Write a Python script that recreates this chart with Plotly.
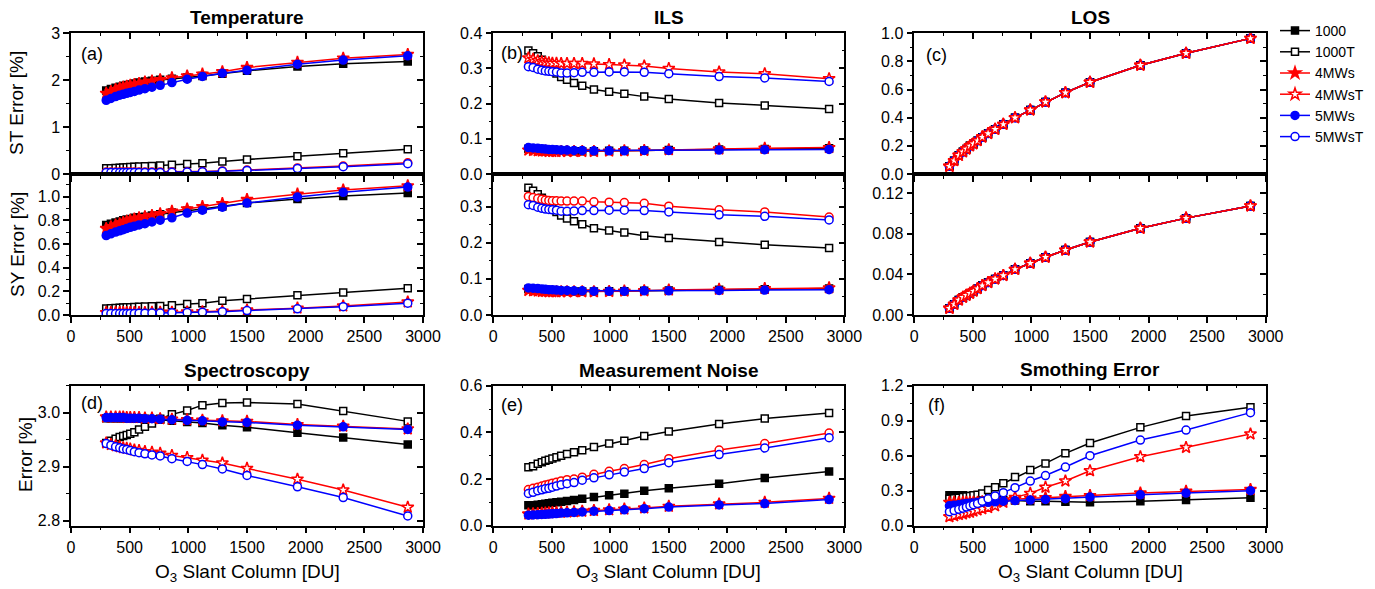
import plotly.graph_objects as go

W, H = 1375, 589

# ---------------- data ----------------
x_du = [300, 340, 380, 415, 445, 475, 505, 540, 580, 630, 690, 760, 860, 990, 1120, 1290, 1500, 1930, 2320, 2870]
series_names = ["1000", "1000T", "4MWs", "4MWsT", "5MWs", "5MWsT"]

temp_st = {
    "1000":  [1.78, 1.81, 1.84, 1.86, 1.88, 1.90, 1.91, 1.93, 1.95, 1.97, 1.99, 2.01, 2.03, 2.06, 2.09, 2.14, 2.20, 2.29, 2.35, 2.40],
    "1000T": [0.12, 0.125, 0.13, 0.135, 0.14, 0.145, 0.15, 0.155, 0.16, 0.165, 0.17, 0.18, 0.195, 0.215, 0.23, 0.265, 0.31, 0.38, 0.44, 0.53],
    "4MWs":  [1.72, 1.76, 1.80, 1.83, 1.85, 1.87, 1.89, 1.91, 1.93, 1.96, 1.98, 2.01, 2.05, 2.09, 2.13, 2.18, 2.27, 2.38, 2.47, 2.55],
    "4MWsT": [0.04, 0.04, 0.04, 0.04, 0.04, 0.04, 0.04, 0.04, 0.04, 0.042, 0.043, 0.044, 0.045, 0.048, 0.055, 0.065, 0.085, 0.13, 0.17, 0.24],
    "5MWs":  [1.57, 1.61, 1.65, 1.68, 1.70, 1.72, 1.74, 1.76, 1.79, 1.82, 1.85, 1.89, 1.95, 2.02, 2.08, 2.15, 2.21, 2.34, 2.43, 2.52],
    "5MWsT": [0.03, 0.03, 0.03, 0.03, 0.03, 0.03, 0.03, 0.03, 0.03, 0.032, 0.033, 0.034, 0.036, 0.04, 0.046, 0.056, 0.075, 0.115, 0.155, 0.22],
}
temp_sy = {
    "1000":  [0.76, 0.77, 0.78, 0.79, 0.80, 0.805, 0.81, 0.82, 0.825, 0.83, 0.84, 0.85, 0.865, 0.88, 0.895, 0.915, 0.945, 0.98, 1.005, 1.03],
    "1000T": [0.055, 0.057, 0.059, 0.061, 0.063, 0.065, 0.066, 0.068, 0.07, 0.072, 0.074, 0.077, 0.083, 0.093, 0.10, 0.12, 0.135, 0.166, 0.19, 0.225],
    "4MWs":  [0.73, 0.745, 0.76, 0.77, 0.78, 0.79, 0.80, 0.81, 0.82, 0.83, 0.84, 0.855, 0.875, 0.895, 0.915, 0.94, 0.975, 1.02, 1.055, 1.09],
    "4MWsT": [0.02, 0.02, 0.02, 0.02, 0.02, 0.02, 0.02, 0.02, 0.02, 0.021, 0.022, 0.023, 0.024, 0.026, 0.028, 0.032, 0.042, 0.058, 0.076, 0.11],
    "5MWs":  [0.67, 0.685, 0.70, 0.71, 0.72, 0.73, 0.74, 0.75, 0.76, 0.77, 0.785, 0.80, 0.82, 0.86, 0.885, 0.91, 0.945, 0.995, 1.035, 1.08],
    "5MWsT": [0.012, 0.012, 0.012, 0.012, 0.012, 0.012, 0.013, 0.013, 0.014, 0.015, 0.016, 0.017, 0.019, 0.021, 0.024, 0.028, 0.037, 0.052, 0.07, 0.10],
}
ils_st = {
    "1000":  [0.072, 0.071, 0.070, 0.069, 0.068, 0.067, 0.067, 0.066, 0.066, 0.065, 0.065, 0.065, 0.065, 0.066, 0.066, 0.067, 0.068, 0.070, 0.071, 0.073],
    "1000T": [0.351, 0.343, 0.335, 0.325, 0.316, 0.306, 0.296, 0.286, 0.276, 0.268, 0.259, 0.251, 0.240, 0.234, 0.228, 0.220, 0.213, 0.202, 0.195, 0.185],
    "4MWs":  [0.068, 0.067, 0.066, 0.065, 0.065, 0.064, 0.064, 0.064, 0.064, 0.064, 0.064, 0.064, 0.064, 0.065, 0.066, 0.067, 0.069, 0.071, 0.073, 0.075],
    "4MWsT": [0.330, 0.326, 0.322, 0.319, 0.317, 0.316, 0.315, 0.315, 0.314, 0.314, 0.314, 0.314, 0.313, 0.311, 0.310, 0.307, 0.300, 0.290, 0.285, 0.271],
    "5MWs":  [0.075, 0.074, 0.073, 0.072, 0.071, 0.070, 0.070, 0.069, 0.068, 0.068, 0.067, 0.067, 0.066, 0.066, 0.066, 0.067, 0.067, 0.068, 0.069, 0.070],
    "5MWsT": [0.305, 0.303, 0.298, 0.295, 0.293, 0.292, 0.291, 0.290, 0.287, 0.287, 0.288, 0.289, 0.289, 0.290, 0.290, 0.289, 0.285, 0.277, 0.273, 0.263],
}
ils_sy = {
    "1000":  [0.072, 0.071, 0.070, 0.069, 0.068, 0.067, 0.067, 0.066, 0.066, 0.065, 0.065, 0.065, 0.065, 0.066, 0.066, 0.067, 0.068, 0.070, 0.071, 0.073],
    "1000T": [0.352, 0.344, 0.334, 0.324, 0.315, 0.305, 0.295, 0.285, 0.275, 0.267, 0.259, 0.251, 0.240, 0.234, 0.228, 0.219, 0.213, 0.202, 0.194, 0.185],
    "4MWs":  [0.068, 0.067, 0.066, 0.065, 0.065, 0.064, 0.064, 0.064, 0.064, 0.064, 0.064, 0.064, 0.064, 0.065, 0.066, 0.067, 0.069, 0.071, 0.073, 0.075],
    "4MWsT": [0.328, 0.325, 0.322, 0.320, 0.318, 0.317, 0.316, 0.316, 0.315, 0.315, 0.315, 0.315, 0.313, 0.312, 0.311, 0.309, 0.301, 0.291, 0.285, 0.271],
    "5MWs":  [0.075, 0.074, 0.073, 0.072, 0.071, 0.070, 0.070, 0.069, 0.068, 0.068, 0.067, 0.067, 0.066, 0.066, 0.066, 0.067, 0.067, 0.068, 0.069, 0.070],
    "5MWsT": [0.305, 0.303, 0.298, 0.295, 0.293, 0.292, 0.291, 0.290, 0.287, 0.287, 0.288, 0.289, 0.289, 0.290, 0.290, 0.289, 0.285, 0.277, 0.273, 0.263],
}
los_st_values = [0.055, 0.095, 0.133, 0.158, 0.178, 0.200, 0.215, 0.237, 0.262, 0.288, 0.318, 0.353, 0.400, 0.455, 0.512, 0.578, 0.652, 0.773, 0.858, 0.964]
los_sy_values = [0.0066, 0.0105, 0.0148, 0.0175, 0.0195, 0.0215, 0.0235, 0.026, 0.029, 0.032, 0.0355, 0.039, 0.045, 0.051, 0.057, 0.064, 0.072, 0.0855, 0.0955, 0.1075]
los_st = {n: los_st_values for n in series_names}
los_sy = {n: los_sy_values for n in series_names}
spec = {
    "1000":  [2.990, 2.990, 2.990, 2.990, 2.990, 2.990, 2.990, 2.989, 2.989, 2.989, 2.988, 2.987, 2.985, 2.983, 2.981, 2.977, 2.973, 2.963, 2.954, 2.941],
    "1000T": [2.944, 2.948, 2.952, 2.955, 2.957, 2.959, 2.961, 2.964, 2.969, 2.974, 2.980, 2.989, 2.997, 3.004, 3.014, 3.018, 3.019, 3.016, 3.003, 2.984],
    "4MWs":  [2.992, 2.992, 2.992, 2.992, 2.992, 2.991, 2.991, 2.991, 2.991, 2.990, 2.990, 2.989, 2.988, 2.987, 2.986, 2.985, 2.984, 2.978, 2.975, 2.970],
    "4MWsT": [2.944, 2.941, 2.939, 2.937, 2.935, 2.934, 2.933, 2.931, 2.930, 2.928, 2.927, 2.925, 2.921, 2.917, 2.912, 2.907, 2.897, 2.877, 2.857, 2.825],
    "5MWs":  [2.991, 2.991, 2.991, 2.991, 2.991, 2.990, 2.990, 2.990, 2.990, 2.989, 2.989, 2.988, 2.987, 2.986, 2.985, 2.983, 2.982, 2.977, 2.974, 2.969],
    "5MWsT": [2.943, 2.940, 2.937, 2.935, 2.933, 2.932, 2.930, 2.928, 2.926, 2.924, 2.922, 2.920, 2.915, 2.910, 2.904, 2.896, 2.884, 2.863, 2.843, 2.809],
}
noise = {
    "1000":  [0.088, 0.088, 0.090, 0.092, 0.094, 0.096, 0.098, 0.100, 0.103, 0.106, 0.110, 0.115, 0.123, 0.130, 0.137, 0.150, 0.161, 0.180, 0.204, 0.232],
    "1000T": [0.250, 0.255, 0.265, 0.272, 0.278, 0.283, 0.288, 0.293, 0.300, 0.307, 0.315, 0.323, 0.337, 0.352, 0.364, 0.384, 0.404, 0.436, 0.459, 0.483],
    "4MWs":  [0.050, 0.051, 0.052, 0.053, 0.054, 0.055, 0.056, 0.057, 0.058, 0.059, 0.060, 0.062, 0.065, 0.068, 0.071, 0.076, 0.083, 0.093, 0.100, 0.117],
    "4MWsT": [0.155, 0.160, 0.165, 0.170, 0.174, 0.178, 0.182, 0.186, 0.192, 0.197, 0.200, 0.208, 0.220, 0.233, 0.245, 0.262, 0.287, 0.324, 0.352, 0.397],
    "5MWs":  [0.045, 0.046, 0.047, 0.048, 0.049, 0.050, 0.051, 0.052, 0.054, 0.055, 0.057, 0.059, 0.062, 0.065, 0.068, 0.073, 0.080, 0.089, 0.095, 0.112],
    "5MWsT": [0.138, 0.143, 0.150, 0.154, 0.158, 0.160, 0.165, 0.170, 0.175, 0.180, 0.185, 0.195, 0.205, 0.218, 0.230, 0.245, 0.270, 0.305, 0.333, 0.377],
}
smooth = {
    "1000":  [0.26, 0.26, 0.26, 0.26, 0.255, 0.25, 0.245, 0.24, 0.235, 0.23, 0.225, 0.22, 0.215, 0.21, 0.21, 0.205, 0.20, 0.21, 0.22, 0.24],
    "1000T": [0.23, 0.235, 0.24, 0.245, 0.25, 0.255, 0.26, 0.265, 0.277, 0.306, 0.33, 0.363, 0.417, 0.477, 0.534, 0.62, 0.709, 0.843, 0.94, 1.015],
    "4MWs":  [0.20, 0.20, 0.20, 0.20, 0.20, 0.20, 0.20, 0.20, 0.205, 0.21, 0.215, 0.22, 0.23, 0.235, 0.24, 0.25, 0.258, 0.28, 0.295, 0.31],
    "4MWsT": [0.077, 0.085, 0.095, 0.10, 0.11, 0.115, 0.125, 0.135, 0.145, 0.155, 0.17, 0.20, 0.243, 0.277, 0.329, 0.383, 0.471, 0.591, 0.671, 0.786],
    "5MWs":  [0.17, 0.175, 0.18, 0.185, 0.19, 0.192, 0.195, 0.198, 0.20, 0.20, 0.205, 0.21, 0.215, 0.22, 0.225, 0.232, 0.245, 0.265, 0.28, 0.30],
    "5MWsT": [0.12, 0.13, 0.14, 0.15, 0.16, 0.17, 0.18, 0.19, 0.21, 0.23, 0.255, 0.283, 0.326, 0.383, 0.43, 0.503, 0.60, 0.734, 0.82, 0.969],
}

x_ticks = [0, 500, 1000, 1500, 2000, 2500, 3000]

# ---------------- styles ----------------
FONT = "Arial, Liberation Sans, sans-serif"
styles = {
    "1000":  dict(color="black", symbol="square", hollow=False),
    "1000T": dict(color="black", symbol="square", hollow=True),
    "4MWs":  dict(color="red", symbol="star", hollow=False),
    "4MWsT": dict(color="red", symbol="star", hollow=True),
    "5MWs":  dict(color="blue", symbol="circle", hollow=False),
    "5MWsT": dict(color="blue", symbol="circle", hollow=True),
}
marker_sizes = {"square": 7, "circle": 8, "star": 9}
normal_order = series_names
reds_on_top = ["1000", "1000T", "5MWs", "5MWsT", "4MWs", "4MWsT"]

def px_x(p):
    return p / W

def px_y(p):
    return 1 - p / H

col_px = [(71, 423), (493.3, 844.3), (914.3, 1265.7)]
row_px = {"top": (33.3, 174), "mid": (174, 315), "bot": (385.7, 525.7)}

# panel: (data, col, row, yrange, dtick, minor dtick, tickformat, x labels, 4MWsT symbol override, draw order)
panels = [
    (temp_st, 0, "top", [0, 3], 1, 0.5, "d", False, "circle", normal_order),
    (temp_sy, 0, "mid", [0, 1.19], 0.2, 0.1, ".1f", True, None, normal_order),
    (ils_st, 1, "top", [0, 0.4], 0.1, 0.05, ".1f", False, None, normal_order),
    (ils_sy, 1, "mid", [0, 0.39], 0.1, 0.05, ".1f", True, "circle", normal_order),
    (los_st, 2, "top", [0, 1.0], 0.2, 0.1, ".1f", False, None, reds_on_top),
    (los_sy, 2, "mid", [0, 0.139], 0.04, 0.02, ".2f", True, None, reds_on_top),
    (spec, 0, "bot", [2.791, 3.05], 0.1, 0.05, ".1f", True, None, normal_order),
    (noise, 1, "bot", [0, 0.6], 0.2, 0.1, ".1f", True, "circle", normal_order),
    (smooth, 2, "bot", [0, 1.2], 0.3, 0.15, ".1f", True, None, normal_order),
]
NP = len(panels)
LEGEND_PANEL = 3

fig = go.Figure()
layout = {}
tickfont = dict(family=FONT, size=16, color="black")

for i, (data, col, row, yr, dt, mdt, fmt, xlab, ov, order) in enumerate(panels, start=1):
    xd = [px_x(col_px[col][0]), px_x(col_px[col][1])]
    yd = [px_y(row_px[row][1]), px_y(row_px[row][0])]
    xa = "x" if i == 1 else f"x{i}"
    ya = "y" if i == 1 else f"y{i}"
    for name in order:
        st = styles[name]
        sym = st["symbol"]
        if name == "4MWsT" and ov:
            sym = ov
        fill = "white" if st["hollow"] else st["color"]
        fig.add_trace(go.Scatter(
            x=x_du, y=data[name], name=name, mode="lines+markers",
            line=dict(color=st["color"], width=1.5),
            marker=dict(symbol=sym, size=marker_sizes[sym], color=fill,
                        line=dict(color=st["color"], width=1.5)),
            xaxis=xa, yaxis=ya, showlegend=(i == LEGEND_PANEL), legendgroup=name,
        ))
    layout[f"xaxis{i}"] = dict(
        domain=xd, range=[0, 3000], anchor=ya, showline=True, linecolor="black", linewidth=1.5,
        ticks="outside", ticklen=6, tickwidth=1.5, tickcolor="black", tickvals=x_ticks,
        showticklabels=xlab, tickfont=tickfont, showgrid=False, zeroline=False,
        minor=dict(dtick=250, ticks="outside", ticklen=3, tickwidth=1.2, tickcolor="black", showgrid=False),
    )
    layout[f"yaxis{i}"] = dict(
        domain=yd, range=yr, anchor=xa, showline=True, linecolor="black", linewidth=1.5,
        ticks="outside", ticklen=6, tickwidth=1.5, tickcolor="black", tick0=0 if yr[0] == 0 else 2.8, dtick=dt,
        tickformat=fmt, tickfont=tickfont, showgrid=False, zeroline=False,
        minor=dict(dtick=mdt, ticks="outside", ticklen=3, tickwidth=1.2, tickcolor="black", showgrid=False),
    )
    # mirrored axes with inward ticks (top / right)
    j = i + NP
    layout[f"xaxis{j}"] = dict(
        overlaying=xa, anchor=f"y{j}", side="top", range=[0, 3000], showline=True, linecolor="black",
        linewidth=1.5, ticks="inside", ticklen=6, tickwidth=1.5, tickcolor="black", tickvals=x_ticks,
        showticklabels=False, showgrid=False, zeroline=False,
        minor=dict(dtick=250, ticks="inside", ticklen=3, tickwidth=1.2, tickcolor="black", showgrid=False),
    )
    layout[f"yaxis{j}"] = dict(
        overlaying=ya, anchor=f"x{j}", side="right", range=yr, showline=True, linecolor="black",
        linewidth=1.5, ticks="inside", ticklen=6, tickwidth=1.5, tickcolor="black",
        tick0=0 if yr[0] == 0 else 2.8, dtick=dt, showticklabels=False, showgrid=False, zeroline=False,
        minor=dict(dtick=mdt, ticks="inside", ticklen=3, tickwidth=1.2, tickcolor="black", showgrid=False),
    )
    fig.add_trace(go.Scatter(x=[None], y=[None], xaxis=f"x{j}", yaxis=f"y{j}",
                             showlegend=False, hoverinfo="skip"))

annotations = []

def ann(text, xp, yp, size, bold=False, angle=0):
    annotations.append(dict(
        text=f"<b>{text}</b>" if bold else text, x=px_x(xp), y=px_y(yp), xref="paper", yref="paper",
        showarrow=False, textangle=angle, xanchor="center", yanchor="middle",
        font=dict(family=FONT, size=size, color="black"),
    ))

# titles
ann("Temperature", 247, 17, 19, bold=True)
ann("ILS", 669, 17, 19, bold=True)
ann("LOS", 1090, 17, 19, bold=True)
ann("Spectroscopy", 247, 371, 19, bold=True)
ann("Measurement Noise", 669, 370, 19, bold=True)
ann("Smothing Error", 1090, 369, 19, bold=True)
# panel labels
for lab, xp, yp in [("(a)", 92, 54), ("(b)", 512, 53), ("(c)", 936, 55),
                    ("(d)", 92, 403), ("(e)", 512, 405), ("(f)", 936, 405)]:
    ann(lab, xp, yp, 18)
# axis titles
ann("ST Error [%]", 17, 103, 19, angle=-90)
ann("SY Error [%]", 17, 245, 19, angle=-90)
ann("Error [%]", 25, 455, 19, angle=-90)
for c in range(3):
    ann("O<sub>3</sub> Slant Column [DU]", (col_px[c][0] + col_px[c][1]) / 2, 573, 19)

fig.update_layout(
    width=W, height=H, margin=dict(l=0, r=0, t=0, b=0, autoexpand=False),
    paper_bgcolor="white", plot_bgcolor="white",
    annotations=annotations,
    legend=dict(x=px_x(1275), y=px_y(15), xanchor="left", yanchor="top",
                font=dict(family=FONT, size=14, color="black"), bgcolor="rgba(0,0,0,0)",
                tracegroupgap=0, itemwidth=30),
    **layout,
)

fig.write_html("out.html", config={"displayModeBar": False},
               post_script="document.body.style.margin='0';document.body.style.padding='0';")
